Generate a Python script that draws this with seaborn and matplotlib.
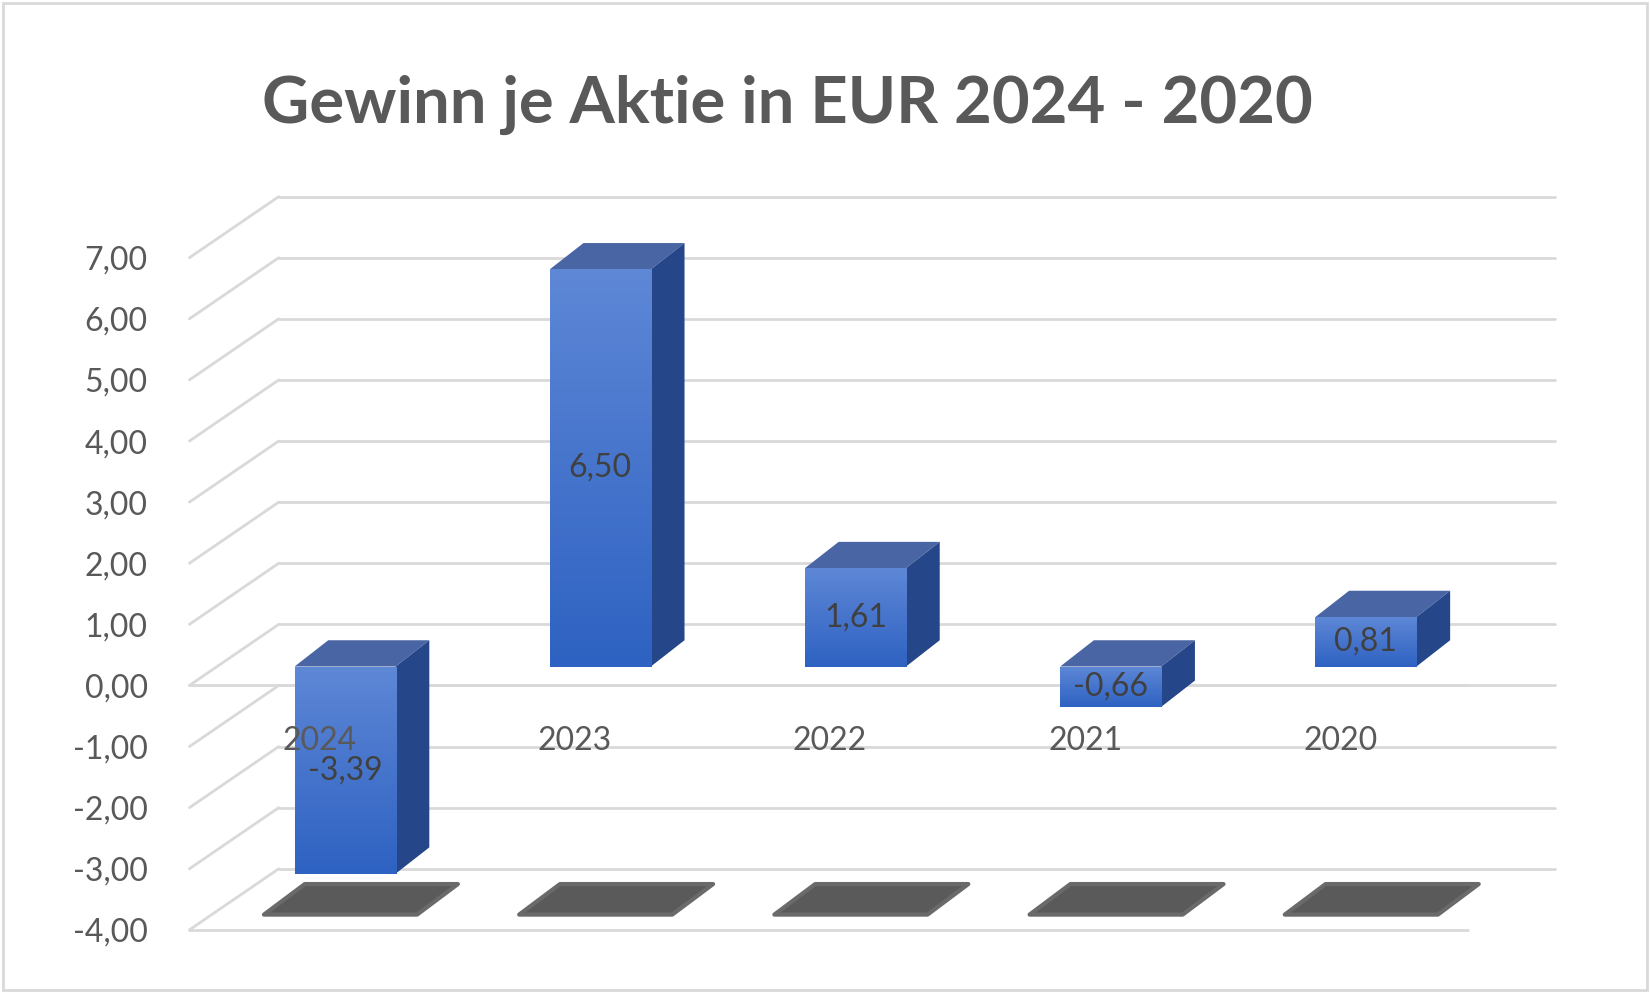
import numpy as np
import pandas as pd
import matplotlib
matplotlib.use("Agg")
import matplotlib.pyplot as plt
import seaborn as sns
from matplotlib.patches import Polygon, Rectangle
from matplotlib.colors import LinearSegmentedColormap

years = ["2024", "2023", "2022", "2021", "2020"]
values = [-3.39, 6.50, 1.61, -0.66, 0.81]
value_labels = ["-3,39", "6,50", "1,61", "-0,66", "0,81"]
yticks = [-4, -3, -2, -1, 0, 1, 2, 3, 4, 5, 6, 7]
ytick_labels = [f"{t:.2f}".replace(".", ",") for t in yticks]
title = "Gewinn je Aktie in EUR 2024 - 2020"

sns.set_theme(style="white")
plt.rcParams['font.family'] = ['Lato', 'DejaVu Sans']

W, H = 1568, 944
fig = plt.figure(figsize=(16.5, 9.93), dpi=100)
ax = fig.add_axes([180/W, 1-884/H, (1478-180)/W, (884-245)/H])
XL, XR = -0.61, 4.742
YB, YT = -4, 7
gx, gy = 0.35, 1.0
base = 0.31
bw = 0.396
ddx, ddy = 0.132, 0.43

df = pd.DataFrame({"year": years, "val": values})
sns.barplot(data=df, x="year", y="val", bottom=base, color="#3F6FCC", width=bw,
            ax=ax, zorder=3, saturation=1, edgecolor="none")
ax.set_xlim(XL, XR); ax.set_ylim(YB, YT)
for s in ax.spines.values():
    s.set_visible(False)
ax.set_xticks([]); ax.set_xlabel(""); ax.set_ylabel("")
ax.set_yticks(yticks)
ax.set_yticklabels(ytick_labels, fontsize=23, color="#595959")
ax.tick_params(axis="y", length=0, pad=30)

gc = "#D9D9D9"
for t in yticks:
    ax.plot([XL, XL+gx], [t, t+gy], color=gc, lw=2, zorder=1, clip_on=False)
    ax.plot([XL+gx, XR], [t+gy, t+gy], color=gc, lw=2, zorder=1, clip_on=False)
ax.plot([XL, 4.4], [0, 0], color=gc, lw=2, zorder=2, clip_on=False)
ax.plot([XL, 4.4], [-4, -4], color=gc, lw=2, zorder=1, clip_on=False)

grad = np.linspace(0, 1, 100).reshape(-1, 1)
cmap = LinearSegmentedColormap.from_list("g", ["#2E62C2", "#5E87D6"])
for p, v, lab, yr in zip(ax.patches, values, value_labels, years):
    x0 = p.get_x(); w = p.get_width(); y0 = p.get_y(); h = p.get_height()
    lo, hi = min(y0, y0+h), max(y0, y0+h)
    im = ax.imshow(grad, extent=[x0, x0+w, lo, hi], origin="lower", cmap=cmap,
                   aspect="auto", zorder=3.5)
    im.set_clip_path(p)
    ax.add_patch(Polygon([[x0, hi], [x0+w, hi], [x0+w+ddx, hi+ddy], [x0+ddx, hi+ddy]],
                         closed=True, fc="#4A65A3", ec="none", zorder=3.4, clip_on=False))
    ax.add_patch(Polygon([[x0+w, lo], [x0+w+ddx, lo+ddy], [x0+w+ddx, hi+ddy], [x0+w, hi]],
                         closed=True, fc="#26468A", ec="none", zorder=3.4, clip_on=False))
    sx = x0 - 0.12
    ax.add_patch(Polygon([[sx, -3.75], [sx+0.6, -3.75], [sx+0.6+0.16, -3.25], [sx+0.16, -3.25]],
                         closed=True, fc="#5A5A5A", ec="#6A6A6A", lw=3, joinstyle="round",
                         zorder=1.5, clip_on=False))
    cx = x0 + w/2
    ax.text(cx, (lo+hi)/2, lab, ha="center", va="center", fontsize=23, color="#404040", zorder=6)
    ax.text(cx - 0.1, -0.91, yr, ha="center", va="center", fontsize=23, color="#595959", zorder=6)

fig.text(0.477, 1-100/H, title, ha="center", va="center", fontsize=47,
         fontweight="bold", color="#595959")
fig.add_artist(Rectangle((0.002, 0.003), 0.996, 0.994, transform=fig.transFigure,
                         fill=False, ec="#D9D9D9", lw=2))
fig.savefig("out.png", dpi=100)
